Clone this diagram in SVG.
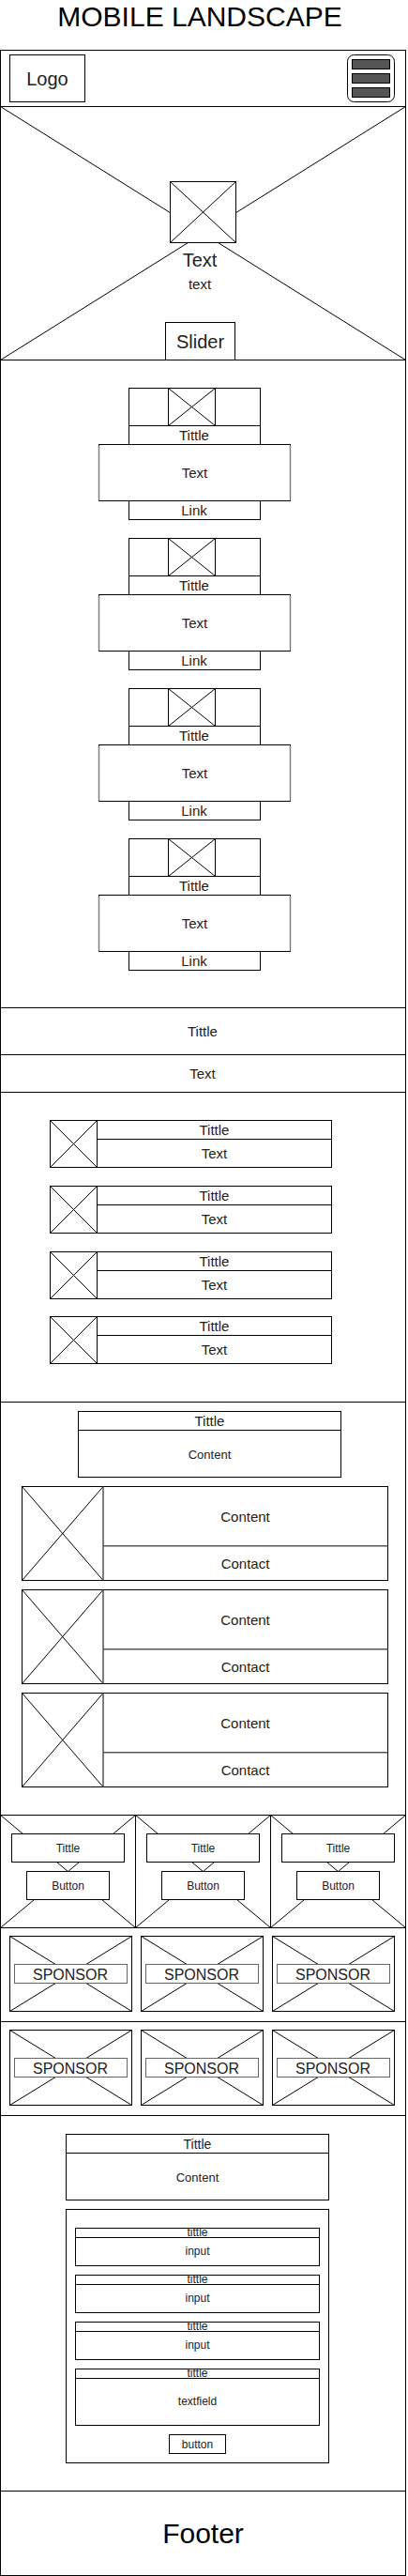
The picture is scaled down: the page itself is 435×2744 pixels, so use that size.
<svg xmlns="http://www.w3.org/2000/svg" width="435" height="2744" viewBox="0 0 435 2744">
<style>
.b{fill:#fff;stroke:#000;stroke-width:1}
.n{fill:none;stroke:#000;stroke-width:1}
.x{stroke:#000;stroke-width:1;fill:none}
.g{fill:none;stroke:#808080;stroke-width:1.5}
.d{fill:none;stroke:#555;stroke-width:1.5}
text{font-family:"Liberation Sans",Arial,sans-serif;fill:#222;text-anchor:middle}
.t30{font-size:30px;fill:#000}
.t20{font-size:20px}
.t16{font-size:16px}
.t15{font-size:15px}
.t14{font-size:14px}
.t13{font-size:13px}
.t12{font-size:12px}
</style>
<rect width="435" height="2744" fill="#fff"/>
<g id="page-title"><text class="t30" x="213" y="28">MOBILE LANDSCAPE</text></g>

<g id="header">
<rect class="b" x="0.5" y="53.5" width="432" height="60"/>
<g id="logo"><rect class="b" x="10.5" y="58.5" width="80" height="50"/><text class="t20" x="50.5" y="90.5">Logo</text></g>
<g id="menu"><rect class="b" x="370.5" y="58.5" width="50" height="50" rx="7"/>
<rect x="375.5" y="63.5" width="40" height="10" fill="#555" stroke="#000"/>
<rect x="375.5" y="78.5" width="40" height="10" fill="#555" stroke="#000"/>
<rect x="375.5" y="93.5" width="40" height="10" fill="#555" stroke="#000"/></g>
</g>

<g id="hero">
<rect class="b" x="0.5" y="113.5" width="432" height="270"/>
<path class="x" d="M0.5 113.5L432.5 383.5M432.5 113.5L0.5 383.5"/>
<rect class="b" x="181.5" y="193.5" width="70" height="65"/>
<path class="x" d="M181.5 193.5L251.5 258.5M251.5 193.5L181.5 258.5"/>
<text class="t20" x="213" y="284">Text</text>
<text class="t15" x="213" y="308">text</text>
<g id="slider"><rect class="b" x="176.5" y="343.5" width="74" height="40"/><text class="t20" x="213.5" y="370.5">Slider</text></g>
</g>

<g id="cards-section">
<rect class="b" x="0.5" y="383.5" width="432" height="690"/>
</g>
<g id="card-1" transform="translate(0,0)">
<rect class="b" x="137.5" y="413.5" width="140" height="40"/>
<rect class="b" x="179.5" y="413.5" width="50" height="40"/>
<path class="x" d="M179.5 413.5L229.5 453.5M229.5 413.5L179.5 453.5"/>
<rect class="b" x="137.5" y="453.5" width="140" height="20"/><text class="t15" x="207" y="469">Tittle</text>
<rect class="b" x="105.5" y="473.5" width="204" height="60"/><path class="g" d="M105.5 474.5V533M309.5 474.5V533"/><text class="t15" x="207.5" y="509">Text</text>
<rect class="b" x="137.5" y="533.5" width="140" height="20"/><text class="t15" x="207" y="549">Link</text>
</g>
<g id="card-2" transform="translate(0,160)">
<rect class="b" x="137.5" y="413.5" width="140" height="40"/>
<rect class="b" x="179.5" y="413.5" width="50" height="40"/>
<path class="x" d="M179.5 413.5L229.5 453.5M229.5 413.5L179.5 453.5"/>
<rect class="b" x="137.5" y="453.5" width="140" height="20"/><text class="t15" x="207" y="469">Tittle</text>
<rect class="b" x="105.5" y="473.5" width="204" height="60"/><path class="g" d="M105.5 474.5V533M309.5 474.5V533"/><text class="t15" x="207.5" y="509">Text</text>
<rect class="b" x="137.5" y="533.5" width="140" height="20"/><text class="t15" x="207" y="549">Link</text>
</g>
<g id="card-3" transform="translate(0,320)">
<rect class="b" x="137.5" y="413.5" width="140" height="40"/>
<rect class="b" x="179.5" y="413.5" width="50" height="40"/>
<path class="x" d="M179.5 413.5L229.5 453.5M229.5 413.5L179.5 453.5"/>
<rect class="b" x="137.5" y="453.5" width="140" height="20"/><text class="t15" x="207" y="469">Tittle</text>
<rect class="b" x="105.5" y="473.5" width="204" height="60"/><path class="g" d="M105.5 474.5V533M309.5 474.5V533"/><text class="t15" x="207.5" y="509">Text</text>
<rect class="b" x="137.5" y="533.5" width="140" height="20"/><text class="t15" x="207" y="549">Link</text>
</g>
<g id="card-4" transform="translate(0,480)">
<rect class="b" x="137.5" y="413.5" width="140" height="40"/>
<rect class="b" x="179.5" y="413.5" width="50" height="40"/>
<path class="x" d="M179.5 413.5L229.5 453.5M229.5 413.5L179.5 453.5"/>
<rect class="b" x="137.5" y="453.5" width="140" height="20"/><text class="t15" x="207" y="469">Tittle</text>
<rect class="b" x="105.5" y="473.5" width="204" height="60"/><path class="g" d="M105.5 474.5V533M309.5 474.5V533"/><text class="t15" x="207.5" y="509">Text</text>
<rect class="b" x="137.5" y="533.5" width="140" height="20"/><text class="t15" x="207" y="549">Link</text>
</g>

<g id="section-title"><rect class="b" x="0.5" y="1073.5" width="432" height="50"/><text class="t15" x="216" y="1104">Tittle</text></g>
<g id="section-text"><rect class="b" x="0.5" y="1123.5" width="432" height="40"/><text class="t15" x="216" y="1149">Text</text></g>

<g id="list-section"><rect class="b" x="0.5" y="1163.5" width="432" height="330"/></g>
<g id="list-1" transform="translate(0,0)">
<rect class="b" x="53.5" y="1193.5" width="50" height="50"/><path class="x" d="M53.5 1193.5L103.5 1243.5M103.5 1193.5L53.5 1243.5"/>
<rect class="b" x="103.5" y="1193.5" width="250" height="20"/><text class="t15" x="228.5" y="1209">Tittle</text>
<rect class="b" x="103.5" y="1213.5" width="250" height="30"/><text class="t15" x="228.5" y="1234">Text</text>
</g>
<g id="list-2" transform="translate(0,70)">
<rect class="b" x="53.5" y="1193.5" width="50" height="50"/><path class="x" d="M53.5 1193.5L103.5 1243.5M103.5 1193.5L53.5 1243.5"/>
<rect class="b" x="103.5" y="1193.5" width="250" height="20"/><text class="t15" x="228.5" y="1209">Tittle</text>
<rect class="b" x="103.5" y="1213.5" width="250" height="30"/><text class="t15" x="228.5" y="1234">Text</text>
</g>
<g id="list-3" transform="translate(0,140)">
<rect class="b" x="53.5" y="1193.5" width="50" height="50"/><path class="x" d="M53.5 1193.5L103.5 1243.5M103.5 1193.5L53.5 1243.5"/>
<rect class="b" x="103.5" y="1193.5" width="250" height="20"/><text class="t15" x="228.5" y="1209">Tittle</text>
<rect class="b" x="103.5" y="1213.5" width="250" height="30"/><text class="t15" x="228.5" y="1234">Text</text>
</g>
<g id="list-4" transform="translate(0,209)">
<rect class="b" x="53.5" y="1193.5" width="50" height="50"/><path class="x" d="M53.5 1193.5L103.5 1243.5M103.5 1193.5L53.5 1243.5"/>
<rect class="b" x="103.5" y="1193.5" width="250" height="20"/><text class="t15" x="228.5" y="1209">Tittle</text>
<rect class="b" x="103.5" y="1213.5" width="250" height="30"/><text class="t15" x="228.5" y="1234">Text</text>
</g>

<g id="contact-section"><rect class="b" x="0.5" y="1493.5" width="432" height="440"/>
<rect class="b" x="83.5" y="1503.5" width="280" height="20"/><text class="t15" x="223.5" y="1519">Tittle</text>
<rect class="b" x="83.5" y="1523.5" width="280" height="50"/><text class="t13" x="223.5" y="1554">Content</text>
</g>
<g id="contact-1" transform="translate(0,0)">
<rect class="b" x="23.5" y="1583.5" width="390" height="100"/>
<path class="x" d="M23.5 1583.5L110 1683.5M110 1583.5L23.5 1683.5"/>
<path class="d" d="M110 1583.5V1683.5M110 1646.7H413.5"/>
<text class="t15" x="261.5" y="1621">Content</text>
<text class="t15" x="261.5" y="1671">Contact</text>
</g>
<g id="contact-2" transform="translate(0,110)">
<rect class="b" x="23.5" y="1583.5" width="390" height="100"/>
<path class="x" d="M23.5 1583.5L110 1683.5M110 1583.5L23.5 1683.5"/>
<path class="d" d="M110 1583.5V1683.5M110 1646.7H413.5"/>
<text class="t15" x="261.5" y="1621">Content</text>
<text class="t15" x="261.5" y="1671">Contact</text>
</g>
<g id="contact-3" transform="translate(0,220)">
<rect class="b" x="23.5" y="1583.5" width="390" height="100"/>
<path class="x" d="M23.5 1583.5L110 1683.5M110 1583.5L23.5 1683.5"/>
<path class="d" d="M110 1583.5V1683.5M110 1646.7H413.5"/>
<text class="t15" x="261.5" y="1621">Content</text>
<text class="t15" x="261.5" y="1671">Contact</text>
</g>

<g id="banner-1" transform="translate(0,0)">
<rect class="b" x="0.5" y="1933.5" width="144" height="120"/>
<path class="x" d="M0.5 1933.5L144.5 2053.5M144.5 1933.5L0.5 2053.5"/>
<rect class="b" x="12.5" y="1953.5" width="120" height="30"/><text class="t12" x="72.5" y="1973">Tittle</text>
<rect class="b" x="28.5" y="1993.5" width="88" height="30"/><text class="t12" x="72.5" y="2013">Button</text>
</g>
<g id="banner-2" transform="translate(144,0)">
<rect class="b" x="0.5" y="1933.5" width="144" height="120"/>
<path class="x" d="M0.5 1933.5L144.5 2053.5M144.5 1933.5L0.5 2053.5"/>
<rect class="b" x="12.5" y="1953.5" width="120" height="30"/><text class="t12" x="72.5" y="1973">Tittle</text>
<rect class="b" x="28.5" y="1993.5" width="88" height="30"/><text class="t12" x="72.5" y="2013">Button</text>
</g>
<g id="banner-3" transform="translate(288,0)">
<rect class="b" x="0.5" y="1933.5" width="144" height="120"/>
<path class="x" d="M0.5 1933.5L144.5 2053.5M144.5 1933.5L0.5 2053.5"/>
<rect class="b" x="12.5" y="1953.5" width="120" height="30"/><text class="t12" x="72.5" y="1973">Tittle</text>
<rect class="b" x="28.5" y="1993.5" width="88" height="30"/><text class="t12" x="72.5" y="2013">Button</text>
</g>

<g id="sponsor-row-1"><rect class="b" x="0.5" y="2053.5" width="432" height="100"/></g>
<g id="sponsor-row-2"><rect class="b" x="0.5" y="2153.5" width="432" height="100"/></g>
<g id="sponsor-1" transform="translate(0,0)">
<rect class="b" x="10.5" y="2062.5" width="130" height="80"/>
<path class="x" d="M10.5 2062.5L140.5 2142.5M140.5 2062.5L10.5 2142.5"/>
<rect x="15.5" y="2092.5" width="120" height="20" fill="#fff" stroke="#666"/>
<text class="t16" x="75" y="2108.5" fill="#333">SPONSOR</text>
</g>
<g id="sponsor-2" transform="translate(140,0)">
<rect class="b" x="10.5" y="2062.5" width="130" height="80"/>
<path class="x" d="M10.5 2062.5L140.5 2142.5M140.5 2062.5L10.5 2142.5"/>
<rect x="15.5" y="2092.5" width="120" height="20" fill="#fff" stroke="#666"/>
<text class="t16" x="75" y="2108.5">SPONSOR</text>
</g>
<g id="sponsor-3" transform="translate(280,0)">
<rect class="b" x="10.5" y="2062.5" width="130" height="80"/>
<path class="x" d="M10.5 2062.5L140.5 2142.5M140.5 2062.5L10.5 2142.5"/>
<rect x="15.5" y="2092.5" width="120" height="20" fill="#fff" stroke="#666"/>
<text class="t16" x="75" y="2108.5">SPONSOR</text>
</g>
<g id="sponsor-4" transform="translate(0,100)">
<rect class="b" x="10.5" y="2062.5" width="130" height="80"/>
<path class="x" d="M10.5 2062.5L140.5 2142.5M140.5 2062.5L10.5 2142.5"/>
<rect x="15.5" y="2092.5" width="120" height="20" fill="#fff" stroke="#666"/>
<text class="t16" x="75" y="2108.5">SPONSOR</text>
</g>
<g id="sponsor-5" transform="translate(140,100)">
<rect class="b" x="10.5" y="2062.5" width="130" height="80"/>
<path class="x" d="M10.5 2062.5L140.5 2142.5M140.5 2062.5L10.5 2142.5"/>
<rect x="15.5" y="2092.5" width="120" height="20" fill="#fff" stroke="#666"/>
<text class="t16" x="75" y="2108.5">SPONSOR</text>
</g>
<g id="sponsor-6" transform="translate(280,100)">
<rect class="b" x="10.5" y="2062.5" width="130" height="80"/>
<path class="x" d="M10.5 2062.5L140.5 2142.5M140.5 2062.5L10.5 2142.5"/>
<rect x="15.5" y="2092.5" width="120" height="20" fill="#fff" stroke="#666"/>
<text class="t16" x="75" y="2108.5">SPONSOR</text>
</g>

<g id="form-section"><rect class="b" x="0.5" y="2253.5" width="432" height="400"/>
<rect class="b" x="70.5" y="2273.5" width="280" height="20"/><text class="t14" x="210.5" y="2289">Tittle</text>
<rect class="b" x="70.5" y="2293.5" width="280" height="50"/><text class="t13" x="210.5" y="2324">Content</text>
</g>
<g id="form"><rect class="b" x="70.5" y="2353.5" width="280" height="270"/></g>
<g id="field-1">
<rect class="b" x="80.5" y="2373.5" width="260" height="10"/><text class="t12" x="210.5" y="2382">tittle</text>
<rect class="b" x="80.5" y="2383.5" width="260" height="30"/><text class="t12" x="210.5" y="2402">input</text>
</g>
<g id="field-2">
<rect class="b" x="80.5" y="2423.5" width="260" height="10"/><text class="t12" x="210.5" y="2432">tittle</text>
<rect class="b" x="80.5" y="2433.5" width="260" height="30"/><text class="t12" x="210.5" y="2452">input</text>
</g>
<g id="field-3">
<rect class="b" x="80.5" y="2473.5" width="260" height="10"/><text class="t12" x="210.5" y="2482">tittle</text>
<rect class="b" x="80.5" y="2483.5" width="260" height="30"/><text class="t12" x="210.5" y="2502">input</text>
</g>
<g id="field-4">
<rect class="b" x="80.5" y="2523.5" width="260" height="10"/><text class="t12" x="210.5" y="2532">tittle</text>
<rect class="b" x="80.5" y="2533.5" width="260" height="50"/><text class="t12" x="210.5" y="2562">textfield</text>
</g>
<g id="form-button"><rect class="b" x="180.5" y="2593.5" width="60" height="20"/><text class="t12" x="210.5" y="2607.5">button</text></g>

<g id="footer"><rect class="b" x="0.5" y="2653.5" width="432" height="90"/><text class="t30" x="216.5" y="2708.5" fill="#000">Footer</text></g>
<g id="connectors"></g>
</svg>
